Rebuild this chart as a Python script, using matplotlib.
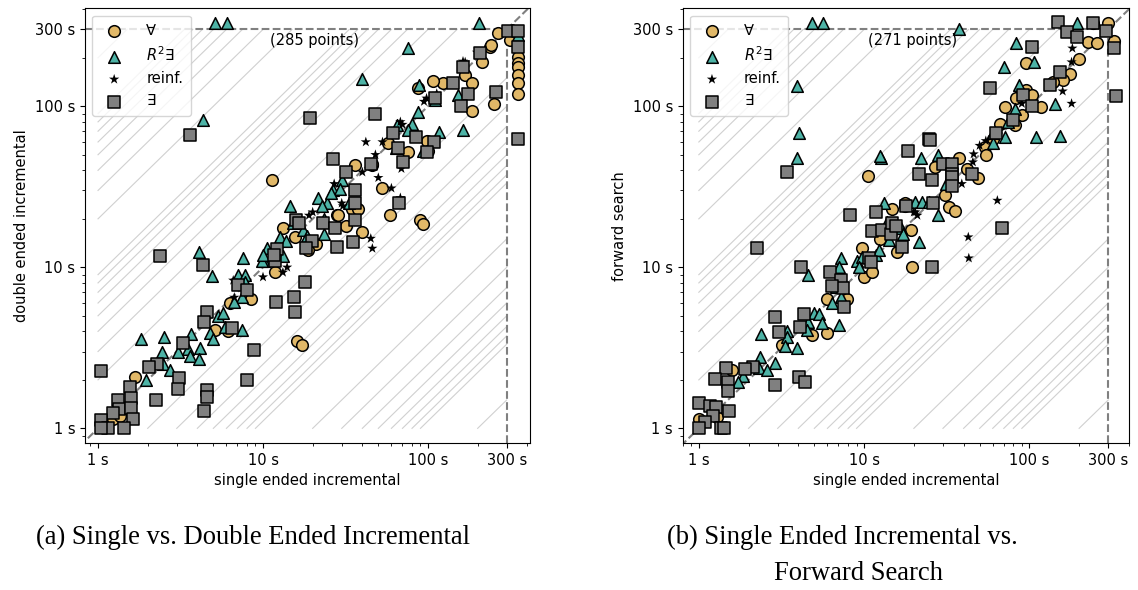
import numpy as np
import matplotlib
matplotlib.use("Agg")
import matplotlib.pyplot as plt
from matplotlib.ticker import FixedLocator, FixedFormatter, LogLocator, NullFormatter

# runtimes in seconds, (x, y) pairs

# (a) single ended incremental vs double ended incremental
a_forall = [(266, 284), (314, 257), (351, 201), (351, 185), (351, 175), (351, 156), (351, 139), (351, 119),
            (238, 232), (212, 188), (168, 156), (185, 139), (123, 139), (107, 143), (87, 129), (251, 104),
            (185, 93), (57, 59), (98, 61), (76, 52), (100, 53), (46, 43), (36, 43), (11.3, 35), (241, 239),
            (52.5, 31), (28, 21), (34.5, 23), (37.5, 23), (58.5, 21), (89.5, 19.6), (93, 18.5), (45.7, 44),
            (28.5, 21), (32, 18), (40, 16.5), (13.2, 17.5), (15.6, 15.4), (21, 13.9), (18.7, 12.8), (11.8, 9.3),
            (8.4, 6.4), (6.3, 6), (16, 3.5), (17.2, 3.3), (5.1, 4.06), (6.1, 4), (1.68, 2.07), (1.23, 1.15),
            (1.36, 1.2)]
a_r2e = [(205, 330), (351, 276), (76, 229), (40, 147), (88, 135), (152, 117), (111, 109), (87, 92), (65, 76),
         (80, 78), (76, 71), (116, 69), (163, 71), (64, 55), (93, 53), (30, 35), (5.1, 328), (6.05, 328),
         (4.3, 82), (14.6, 24), (21.5, 27), (24.4, 25), (22.7, 24), (26.5, 30), (33, 25), (29.3, 30.5), (26, 29),
         (15.2, 18.8), (17.4, 17), (12.6, 15.4), (18.5, 15.6), (23.4, 16), (23.4, 20), (13.8, 14.5), (10.6, 13.1),
         (10.2, 11), (9.9, 11), (13.2, 11.7), (10, 12), (7.6, 11.4), (4.1, 12.4), (4.9, 8.8), (7.1, 8.9),
         (7.8, 8.9), (7.8, 8.1), (7.5, 6.5), (6.7, 6.1), (5.3, 5), (5.7, 5.2), (4.75, 3.9), (5.0, 3.57),
         (5.9, 4.24), (7.5, 4.06), (1.82, 3.6), (2.5, 3.67), (3.66, 3.84), (2.44, 3.0), (3.05, 3.0), (3.5, 3.1),
         (4.15, 3.14), (3.6, 2.8), (4.1, 2.7), (2.47, 2.5), (2.73, 2.3), (1.95, 2.0)]
a_reinf = [(198, 216), (168, 188), (94.6, 107), (98, 112), (113, 120), (68, 80), (70, 77), (53, 60), (42, 60),
           (48, 50), (69, 41), (50, 36), (163, 190), (20, 22), (30, 25), (60, 31), (68, 27), (40, 39), (27, 33),
           (30.5, 24), (19, 21), (45, 15.1), (46, 13.1), (14, 10), (13.2, 9.3), (10, 8.7), (6.6, 8.3), (6.7, 6.5)]
a_exists = [(305, 292), (351, 292), (351, 232), (351, 63), (206, 213), (163, 175), (142, 139), (175, 119),
            (258, 122), (159, 100), (110, 112), (48, 89), (61, 68), (84, 64), (108, 60), (66, 55), (71, 45),
            (45, 44), (32, 39), (26.5, 47), (3.6, 66), (19.3, 84), (36, 30), (36, 25), (67, 25), (36, 19.6),
            (98, 52), (23, 18.8), (27.3, 17.5), (35, 14.3), (28, 13.3), (15.8, 19.6), (16.5, 18.8), (19.8, 14.5),
            (18.2, 13.1), (12.1, 12.9), (11.8, 11), (11.7, 11.9), (4.3, 10.3), (7.05, 7.8), (8, 7.2), (18, 8.1),
            (12, 6.1), (15.4, 6.5), (15.6, 5.3), (4.6, 5.25), (4.4, 4.55), (6.5, 4.2), (8.8, 3.05), (8, 2.0),
            (3.27, 3.37), (2.28, 2.5), (2.04, 2.4), (1.04, 2.26), (3.1, 2.04), (3.05, 1.75), (1.56, 1.8),
            (4.6, 1.72), (4.6, 1.56), (2.25, 1.49), (4.4, 1.28), (1.32, 1.49), (1.58, 1.54), (1.34, 1.31),
            (1.58, 1.33), (1.23, 1.24), (1.63, 1.15), (1.04, 1.12), (1.15, 1.0), (1.44, 1.0), (1.04, 1.0),
            (2.38, 11.7)]

# (b) single ended incremental vs forward search
b_forall = [(241, 328), (297, 328), (225, 250), (255, 246), (327, 253), (201, 196), (96, 185), (175, 158),
            (159, 145), (138, 142), (96, 126), (83, 112), (103, 117), (118, 99), (71.6, 99), (90, 88), (82, 76),
            (66, 78), (60.5, 63), (54, 56), (55, 50), (37.7, 48), (27, 42), (42, 41), (49, 36), (10.6, 37),
            (31, 28), (14.7, 23), (17.7, 25), (17.7, 24), (32.6, 23.6), (35.6, 22.3), (6, 6.4), (7.9, 6.4),
            (9.7, 13.1), (10, 8.7), (11.2, 9.3), (15.8, 12.4), (12.5, 14.9), (19.2, 17), (19.5, 10), (6, 3.9),
            (4.85, 3.78), (3.18, 3.28), (1.58, 2.29), (1.0, 1.15), (1.28, 1.17)]
b_r2e = [(37.7, 300), (195, 328), (83, 246), (106, 188), (70.5, 175), (142, 103), (87, 135), (82, 96), (74, 80),
         (60, 68), (71.6, 64), (110, 64), (154, 65), (60, 59), (22, 48), (28, 50), (12.7, 48), (4.84, 328),
         (5.65, 328), (3.93, 133), (4.03, 68), (3.93, 48), (12.5, 49), (31.4, 33), (28, 21), (13.2, 25),
         (20.4, 25.4), (22.4, 25.4), (24.7, 25.4), (4.57, 8.9), (7.25, 11.4), (7.06, 10), (6.75, 7.5), (6.4, 6.0),
         (7.25, 6.5), (9.0, 11), (9.7, 11.6), (9.3, 10), (11.8, 11.9), (12.3, 12.8), (14.2, 14.7), (13.8, 19),
         (16.7, 17.5), (17.2, 16), (21.5, 14.3), (3.4, 4.0), (3.4, 3.7), (2.37, 3.84), (5.0, 5.2), (5.3, 5.1),
         (4.6, 4.55), (5.6, 4.5), (7.06, 4.36), (4.5, 4.06), (3.3, 3.23), (3.93, 3.14), (2.34, 2.76), (2.89, 2.53),
         (2.31, 2.36), (2.58, 2.29), (1.85, 2.1), (1.72, 1.93)]
b_reinf = [(182, 229), (180, 188), (159, 124), (180, 104), (90, 104), (50, 57), (54.5, 61), (46, 50.5),
           (45.5, 45), (39, 33), (64, 26), (20.4, 22), (20, 22), (21, 21), (42.7, 15.4), (43, 11.4)]
b_exists = [(150, 333), (244, 328), (168, 288), (195, 268), (289, 292), (327, 229), (333, 115), (103, 232),
            (58, 129), (154, 163), (134, 135), (92, 117), (104, 101), (80, 82), (63, 68), (24.8, 63), (18.5, 53),
            (30, 44), (34, 44), (34, 38), (21.5, 38), (45, 38), (3.41, 39), (25, 62), (25.8, 35), (34, 36.6),
            (34, 32), (26, 25), (8.2, 21), (11.8, 22), (68.5, 17.5), (18, 24), (2.25, 13.1), (4.15, 10), (6.2, 9.3),
            (7.25, 8.4), (7.5, 7.4), (6.4, 7.7), (7.6, 5.65), (10.7, 11.4), (11, 10.8), (17, 13.3), (11.2, 16.7),
            (12.9, 17), (14.6, 16), (14.8, 18.8), (15.6, 18), (25.8, 10), (2.9, 4.9), (3.05, 3.95), (4.33, 5.1),
            (4.1, 4.24), (2.12, 2.39), (1.9, 2.33), (1.46, 2.36), (1.25, 2.02), (1.5, 1.93), (1.5, 1.7),
            (2.89, 1.85), (4.03, 2.07), (4.4, 1.93), (1.0, 1.43), (1.17, 1.37), (1.27, 1.35), (1.52, 1.29),
            (1.22, 1.19), (1.09, 1.1), (1.0, 1.0), (1.36, 1.0), (1.42, 1.0)]

timeout = 300
tick_vals = [1, 10, 100, 300]
tick_text = ["1 s", "10 s", "100 s", "300 s"]
point_counts = ["(285 points)", "(271 points)"]
ylabels = ["double ended incremental", "forward search"]

series_style = [
    ("∀", "o", "#e1b868", 70),
    ("$R^2$∃", "^", "#4db3a6", 70),
    ("reinf.", "*", "black", 60),
    ("∃", "s", "#808080", 75),
]

fig = plt.figure(figsize=(11.38, 5.9), dpi=100)
ax_a = fig.add_axes([0.0747, 0.249, 0.391, 0.737])
ax_b = fig.add_axes([0.600, 0.249, 0.392, 0.737])

panels = [
    (ax_a, [a_forall, a_r2e, a_reinf, a_exists], (0.834, 415), (0.81, 406)),
    (ax_b, [b_forall, b_r2e, b_reinf, b_exists], (0.80, 400), (0.81, 406)),
]

for i, (ax, data, xl, yl) in enumerate(panels):
    ax.set_xscale("log")
    ax.set_yscale("log")

    # light guide lines parallel to the diagonal (constant speedup factors)
    factors = [m * d for d in (1, 10, 100) for m in range(2, 10) if m * d <= 200]
    for k in factors:
        ax.plot([1, timeout / k], [k, timeout], color="#d0d0d0", lw=0.8, zorder=0)
        ax.plot([k, timeout], [1, timeout / k], color="#d0d0d0", lw=0.8, zorder=0)

    ax.plot([xl[0], timeout], [timeout, timeout], ls="--", color="gray", lw=1.5, zorder=1)
    ax.plot([timeout, timeout], [yl[0], timeout], ls="--", color="gray", lw=1.5, zorder=1)
    ax.plot([0.5, 1000], [0.5, 1000], ls="--", color="gray", lw=1.5, zorder=1)

    for pts, (lab, mk, col, sz) in zip(data, series_style):
        xs, ys = zip(*pts)
        if mk == "*":
            ax.scatter(xs, ys, marker=mk, s=sz, c=col, edgecolors="none", label=lab, zorder=3)
        else:
            ax.scatter(xs, ys, marker=mk, s=sz, c=col, edgecolors="black", linewidths=1.1,
                       label=lab, zorder=3)

    ax.set_xlim(*xl)
    ax.set_ylim(*yl)
    for axis in (ax.xaxis, ax.yaxis):
        axis.set_major_locator(FixedLocator(tick_vals))
        axis.set_major_formatter(FixedFormatter(tick_text))
        axis.set_minor_locator(LogLocator(base=10, subs=range(2, 10), numticks=20))
        axis.set_minor_formatter(NullFormatter())
    ax.tick_params(labelsize=10.5)

    ax.set_xlabel("single ended incremental", fontsize=10.5)
    ax.set_ylabel(ylabels[i], fontsize=10.5)
    ax.text(0.515, 0.925, point_counts[i], transform=ax.transAxes, ha="center", va="center",
            fontsize=10.5)
    ax.legend(loc="upper left", fontsize=10.5, handletextpad=1.2, borderpad=0.5)

cap_font = dict(family="Liberation Serif", fontsize=19.2, va="center")
fig.text(253 / 1138, 1 - 537 / 590, "(a) Single vs. Double Ended Incremental", ha="center", **cap_font)
fig.text(842 / 1138, 1 - 537 / 590, "(b) Single Ended Incremental vs.", ha="center", **cap_font)
fig.text(858 / 1138, 1 - 573 / 590, "Forward Search", ha="center", **cap_font)

fig.savefig("out.png", dpi=100)
